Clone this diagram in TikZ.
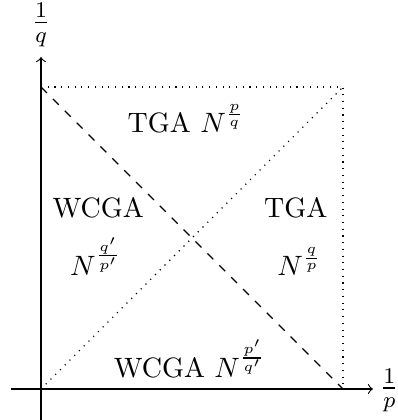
\documentclass[tikz,border=0pt]{standalone}
\begin{document}
\begin{tikzpicture}[x=0.357pt,y=-0.357pt,
  lbl/.style={inner sep=0pt,anchor=base},
  axlbl/.style={inner sep=0pt,font=\large}]
\useasboundingbox (0,0) rectangle (398,420);
\coordinate (O) at (41,389);
\coordinate (A) at (343,389);
\coordinate (B) at (343,87);
\coordinate (C) at (41,87);
\coordinate (xs) at (11,389);
\coordinate (xe) at (373,389);
\coordinate (ys) at (41,419.5);
\coordinate (ye) at (41,57);
\draw[->] (xs) -- (xe);
\draw[->] (ys) -- (ye);
\node[axlbl,anchor=base west] (lp) at (379.5,396.4) {$\frac{1}{p}$};
\node[axlbl,anchor=base] (lq) at (41,30.5) {$\frac{1}{q}$};
\draw[dotted] (C) -- (B) -- (A);
\draw[dotted] (O) -- (B);
\draw[dashed] (C) -- (A);
\node[lbl] (t1) at (186,132.3) {TGA $N^{\frac{p}{q}}$};
\node[lbl] (w1) at (98.3,217.3) {WCGA};
\node[lbl] (w1n) at (96,275) {$N^{\frac{q'}{p'}}$};
\node[lbl] (t2) at (295.8,217.3) {TGA};
\node[lbl] (t2n) at (299.5,275.5) {$N^{\frac{q}{p}}$};
\node[lbl] (w2) at (190,377.3) {WCGA $N^{\frac{p'}{q'}}$};
\end{tikzpicture}
\end{document}
